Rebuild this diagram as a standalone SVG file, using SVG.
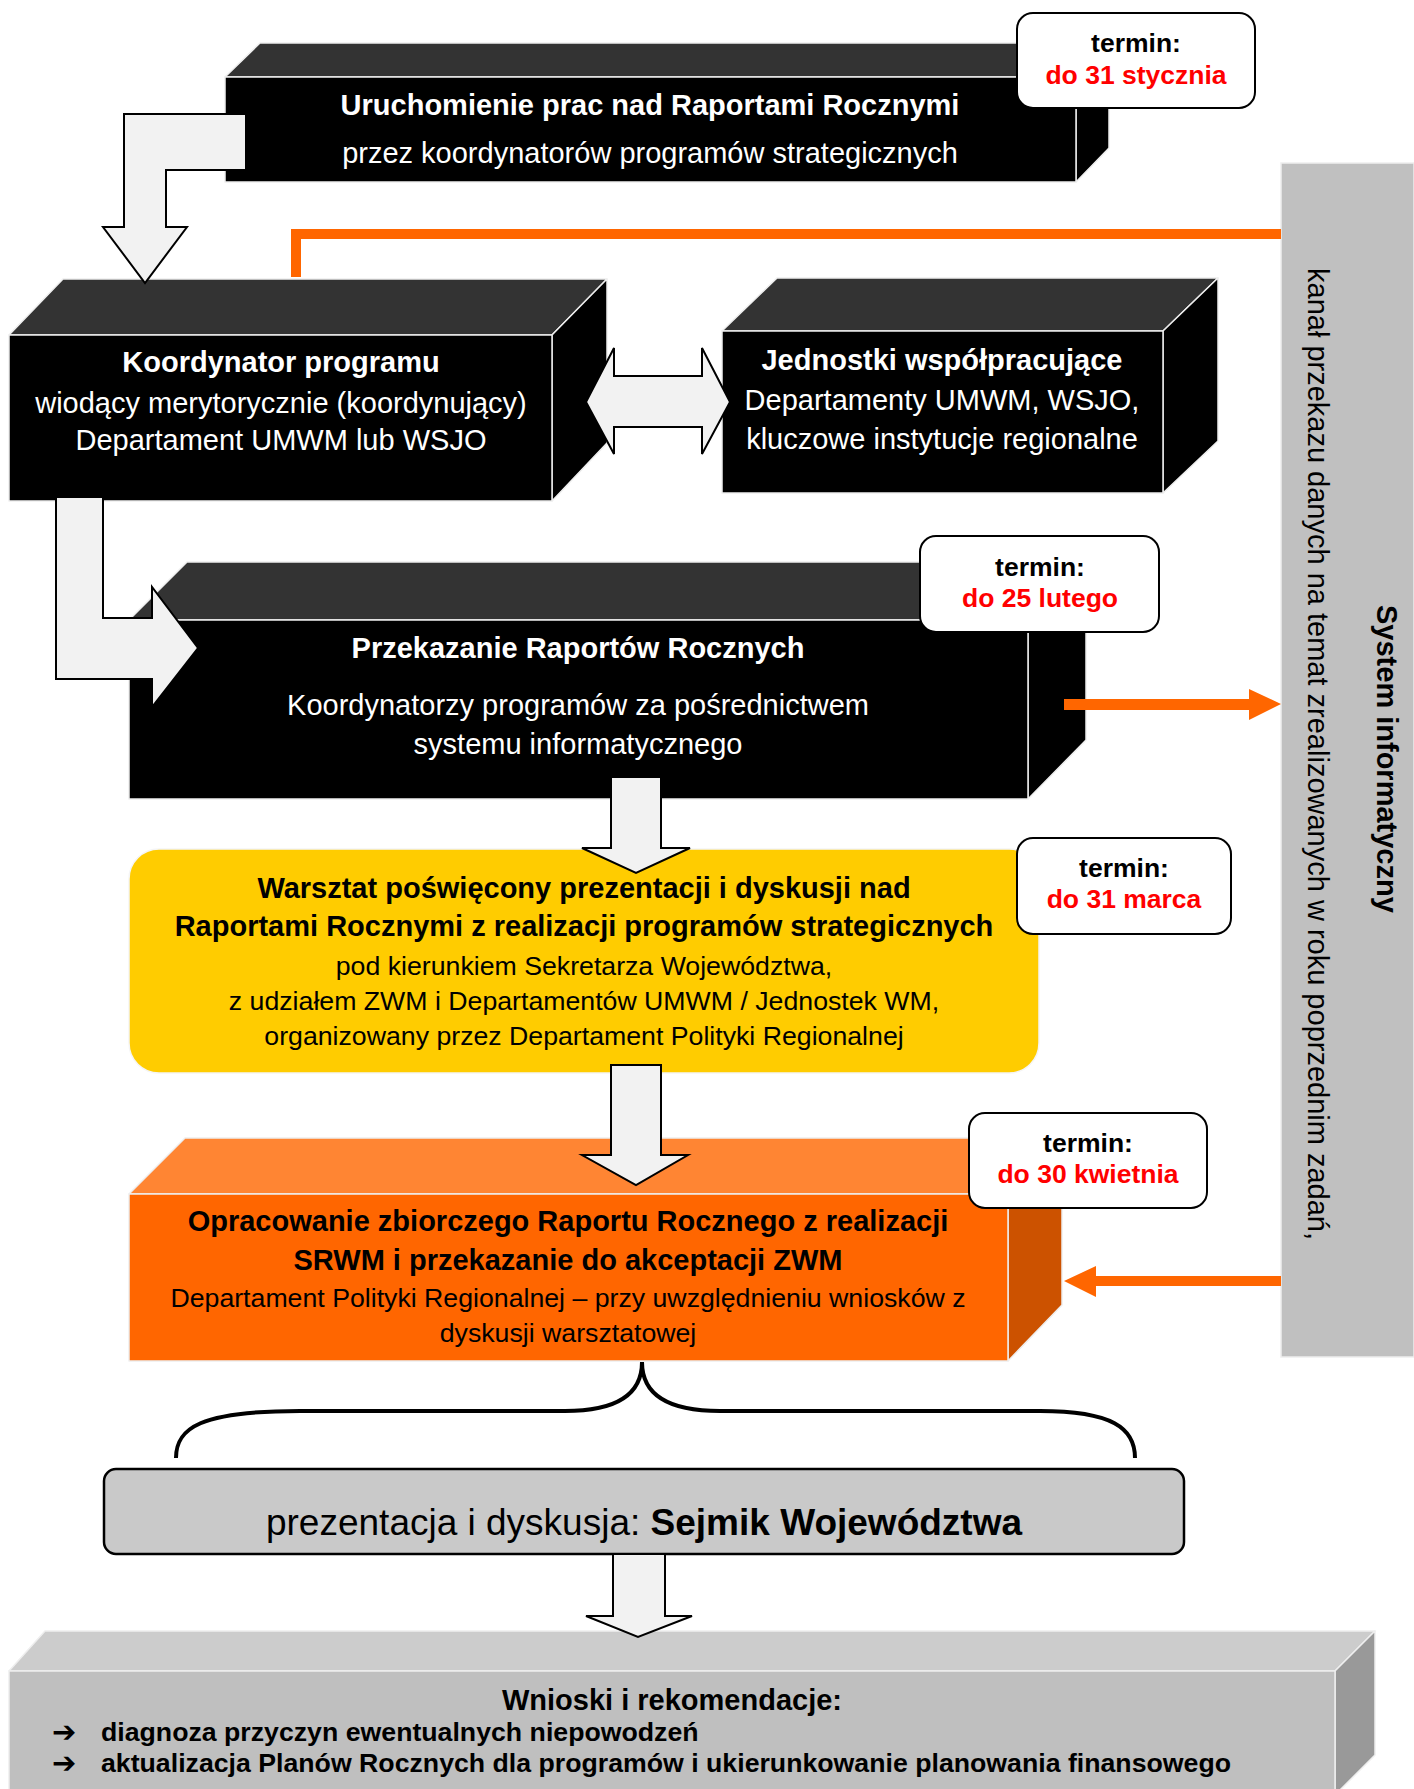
<svg xmlns="http://www.w3.org/2000/svg" width="1414" height="1789" viewBox="0 0 1414 1789">
<style>
text{font-family:"Liberation Sans",Arial,sans-serif}
.face{stroke:#EEEEEE;stroke-width:1.5;stroke-linejoin:round}
.top{fill:#333333}
.blk{fill:#000000}
.w{fill:#FFFFFF}
.k{fill:#000000}
.c{text-anchor:middle}
.b{font-weight:bold}
.s29{font-size:29px}
.s27{font-size:26.7px}
.term{fill:#FFFFFF;stroke:#000000;stroke-width:2}
.tl{font-size:26.5px;font-weight:bold;text-anchor:middle}
.red{fill:#FF0000}
.arrow{fill:#F2F2F2;stroke:#000000;stroke-width:2;stroke-linejoin:miter}
.oline{stroke:#FF6600;stroke-width:10;fill:none}
.ofill{fill:#FF6600}
.vt{font-size:29px;fill:#000000}
.bul{font-family:"DejaVu Sans",sans-serif;font-size:29px;font-weight:bold;fill:#000000}
</style>

<g id="system-informatyczny">
  <rect x="1281" y="163" width="133" height="1194" fill="#C0C0C0" stroke="#EEEEEE" stroke-width="1.5"/>
  <text class="vt" x="1308" y="268" font-size="29.4" transform="rotate(90 1308 268)">kanał przekazu danych na temat zrealizowanych w roku poprzednim zadań,</text>
  <text class="vt b" x="1377" y="605" transform="rotate(90 1377 605)">System informatyczny</text>
</g>

<g id="box-uruchomienie">
  <polygon class="face top" points="225,77 260,43 1109,43 1076,77"/>
  <polygon class="face blk" points="1076,77 1109,43 1109,148 1076,182"/>
  <rect class="face blk" x="225" y="77" width="851" height="105"/>
  <text class="w c b s29" x="650" y="115">Uruchomienie prac nad Raportami Rocznymi</text>
  <text class="w c s29" x="650" y="163">przez koordynatorów programów strategicznych</text>
</g>

<g id="box-koordynator">
  <polygon class="face top" points="9,335 63,279 607,279 552,335"/>
  <polygon class="face blk" points="552,335 607,279 607,443 552,501"/>
  <rect class="face blk" x="9" y="335" width="543" height="166"/>
  <text class="w c b s29" x="281" y="372">Koordynator programu</text>
  <text class="w c s29" x="281" y="413">wiodący merytorycznie (koordynujący)</text>
  <text class="w c s29" x="281" y="450">Departament UMWM lub WSJO</text>
</g>

<g id="box-jednostki">
  <polygon class="face top" points="722,331 777,278 1218,278 1163,331"/>
  <polygon class="face blk" points="1163,331 1218,278 1218,441 1163,493"/>
  <rect class="face blk" x="722" y="331" width="441" height="162"/>
  <text class="w c b s29" x="942" y="370">Jednostki współpracujące</text>
  <text class="w c s29" x="942" y="410">Departamenty UMWM, WSJO,</text>
  <text class="w c s29" x="942" y="449">kluczowe instytucje regionalne</text>
</g>

<g id="box-przekazanie">
  <polygon class="face top" points="129,620 187,562 1086,562 1028,620"/>
  <polygon class="face blk" points="1028,620 1086,562 1086,740 1028,799"/>
  <rect class="face blk" x="129" y="620" width="899" height="179"/>
  <text class="w c b s29" x="578" y="658">Przekazanie Raportów Rocznych</text>
  <text class="w c s29" x="578" y="715">Koordynatorzy programów za pośrednictwem</text>
  <text class="w c s29" x="578" y="754">systemu informatycznego</text>
</g>

<g id="box-warsztat">
  <rect x="129" y="849" width="910" height="224" rx="30" fill="#FFCC00" stroke="#F5F5F5" stroke-width="1.5"/>
  <text class="k c b s29" x="584" y="898">Warsztat poświęcony prezentacji i dyskusji nad</text>
  <text class="k c b s29" x="584" y="936">Raportami Rocznymi z realizacji programów strategicznych</text>
  <text class="k c s27" x="584" y="975">pod kierunkiem Sekretarza Województwa,</text>
  <text class="k c s27" x="584" y="1010">z udziałem ZWM i Departamentów UMWM / Jednostek WM,</text>
  <text class="k c s27" x="584" y="1045">organizowany przez Departament Polityki Regionalnej</text>
</g>

<g id="box-opracowanie">
  <polygon class="face" fill="#FF8533" points="129,1194 185,1138 1062,1138 1008,1194"/>
  <polygon class="face" fill="#CC5200" points="1008,1194 1062,1138 1062,1305 1008,1361"/>
  <rect class="face" fill="#FF6600" x="129" y="1194" width="879" height="167"/>
  <text class="k c b s29" x="568" y="1231">Opracowanie zbiorczego Raportu Rocznego z realizacji</text>
  <text class="k c b s29" x="568" y="1270">SRWM i przekazanie do akceptacji ZWM</text>
  <text class="k c s27" x="568" y="1307">Departament Polityki Regionalnej – przy uwzględnieniu wniosków z</text>
  <text class="k c s27" x="568" y="1342">dyskusji warsztatowej</text>
</g>

<g id="box-sejmik">
  <rect x="104" y="1469" width="1080" height="85" rx="12" fill="#C9C9C9" stroke="#000000" stroke-width="2.5"/>
  <text class="k c" x="644" y="1535" font-size="37">prezentacja i dyskusja: <tspan font-weight="bold">Sejmik Województwa</tspan></text>
</g>

<g id="box-wnioski">
  <polygon class="face" fill="#CCCCCC" points="9,1671 45,1631 1375,1631 1335,1671"/>
  <polygon class="face" fill="#999999" points="1335,1671 1375,1631 1375,1755 1335,1795"/>
  <rect class="face" fill="#BFBFBF" x="9" y="1671" width="1326" height="130"/>
  <text class="k c b s29" x="672" y="1710">Wnioski i rekomendacje:</text>
  <text class="bul" x="52" y="1742">➔</text>
  <text class="k b s27" x="101" y="1741">diagnoza przyczyn ewentualnych niepowodzeń</text>
  <text class="bul" x="52" y="1773">➔</text>
  <text class="k b s27" x="101" y="1772">aktualizacja Planów Rocznych dla programów i ukierunkowanie planowania finansowego</text>
</g>

<g id="connectors">
  <path class="arrow" d="M246,114 L124,114 L124,227 L103,227 L145,283 L187,227 L166,227 L166,170 L246,170 Z"/>
  <path class="arrow" d="M586,402 L614,348 L614,376 L702,376 L702,348 L730,402 L702,454 L702,427 L614,427 L614,454 Z"/>
  <path class="arrow" d="M56,497 L103,497 L103,618 L152,618 L152,587 L198,648 L152,707 L152,679 L56,679 Z"/>
  <path class="arrow" d="M611,777 L661,777 L661,848 L690,848 L636,873 L582,848 L611,848 Z"/>
  <path class="arrow" d="M611,1065 L661,1065 L661,1155 L688,1155 L636,1185 L582,1155 L611,1155 Z"/>
  <path class="arrow" d="M613,1554 L665,1554 L665,1616 L692,1616 L638,1637 L586,1616 L613,1616 Z"/>
  <path class="oline" d="M296,277 L296,234 L1281,234"/>
  <path class="ofill" d="M1064,699 L1249,699 L1249,689 L1281,704 L1249,720 L1249,710 L1064,710 Z"/>
  <path class="ofill" d="M1281,1276 L1096,1276 L1096,1266 L1064,1281 L1096,1297 L1096,1286 L1281,1286 Z"/>
  <path d="M176,1458 C176,1428 200,1411 300,1411 L565,1411 C615,1411 642,1395 642,1362 C642,1395 669,1411 720,1411 L1040,1411 C1112,1411 1135,1428 1135,1458" fill="none" stroke="#000000" stroke-width="4"/>
</g>

<g id="termin-1">
  <rect class="term" x="1017" y="13" width="238" height="95" rx="16"/>
  <text class="tl k" x="1136" y="52">termin:</text>
  <text class="tl red" x="1136" y="84">do 31 stycznia</text>
</g>
<g id="termin-2">
  <rect class="term" x="920" y="536" width="239" height="96" rx="16"/>
  <text class="tl k" x="1040" y="576">termin:</text>
  <text class="tl red" x="1040" y="607">do 25 lutego</text>
</g>
<g id="termin-3">
  <rect class="term" x="1017" y="838" width="214" height="96" rx="16"/>
  <text class="tl k" x="1124" y="877">termin:</text>
  <text class="tl red" x="1124" y="908">do 31 marca</text>
</g>
<g id="termin-4">
  <rect class="term" x="969" y="1113" width="238" height="95" rx="16"/>
  <text class="tl k" x="1088" y="1152">termin:</text>
  <text class="tl red" x="1088" y="1183">do 30 kwietnia</text>
</g>
</svg>
